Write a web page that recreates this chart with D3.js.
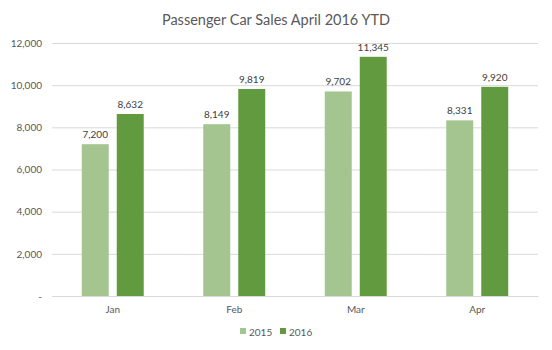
<!DOCTYPE html>
<html><head><meta charset="utf-8">
<script src="https://cdn.jsdelivr.net/npm/d3@7"></script>
<style>body{margin:0;background:#fff}svg{display:block;font-family:Lato, "Open Sans", sans-serif}</style>
</head><body><svg id="c" width="552" height="350"></svg>
<script>
const categories = ["Jan", "Feb", "Mar", "Apr"];
const seriesNames = ["2015", "2016"];
const values2015 = [7200, 8149, 9702, 8331];
const values2016 = [8632, 9819, 11345, 9920];
const yTicks = [0, 2000, 4000, 6000, 8000, 10000, 12000];
const colors = ["#a4c58f", "#629b3f"];

const svg = d3.select("#c");
const m = {l: 52, r: 14, t: 43, b: 54};
const W = 552, H = 350;
const x = d3.scaleBand().domain(categories).range([m.l, W - m.r]).padding(0);
const y = d3.scaleLinear().domain([0, 12000]).range([H - m.b, m.t]);
const fmt = d3.format(",");

svg.append("text").attr("x", W/2).attr("y", 25).attr("text-anchor", "middle")
  .attr("font-size", 14.5).attr("fill", "#595959").text("Passenger Car Sales April 2016 YTD");

const gy = svg.append("g").attr("transform", `translate(${m.l},0)`)
  .call(d3.axisLeft(y).tickValues(yTicks).tickSize(-(W - m.l - m.r)).tickPadding(10)
    .tickFormat(d => d === 0 ? "-" : fmt(d)));
gy.select(".domain").remove();
gy.selectAll("line").attr("stroke", "#d9d9d9");
gy.selectAll("text").attr("fill", "#595959").attr("font-size", 10).attr("font-family", "Lato, sans-serif");

const gx = svg.append("g").attr("transform", `translate(0,${H - m.b})`)
  .call(d3.axisBottom(x).tickSize(0).tickPadding(10));
gx.select(".domain").attr("stroke", "#d9d9d9");
gx.selectAll("text").attr("fill", "#595959").attr("font-size", 10).attr("font-family", "Lato, sans-serif");

const bw = x.bandwidth() * 0.222, gap = x.bandwidth() * 0.066;
const series = [values2015, values2016];
series.forEach((vals, si) => {
  const off = si === 0 ? -gap/2 - bw : gap/2;
  const g = svg.append("g");
  g.selectAll("rect").data(vals).join("rect")
    .attr("x", (d, i) => x(categories[i]) + x.bandwidth()/2 + off)
    .attr("y", d => y(d)).attr("width", bw).attr("height", d => y(0) - y(d))
    .attr("fill", colors[si]);
  g.selectAll("text").data(vals).join("text")
    .attr("x", (d, i) => x(categories[i]) + x.bandwidth()/2 + off + bw/2)
    .attr("y", d => y(d) - 6).attr("text-anchor", "middle")
    .attr("font-size", 10).attr("fill", "#404040").text(d => fmt(d));
});

const leg = svg.append("g").attr("transform", `translate(${W/2},332)`);
const items = [{n: seriesNames[0], c: colors[0], dx: -36}, {n: seriesNames[1], c: colors[1], dx: 4}];
items.forEach(it => {
  leg.append("rect").attr("x", it.dx).attr("y", -4).attr("width", 6).attr("height", 6).attr("fill", it.c);
  leg.append("text").attr("x", it.dx + 9).attr("y", 3.5).attr("font-size", 10).attr("fill", "#595959").text(it.n);
});
</script></body></html>
